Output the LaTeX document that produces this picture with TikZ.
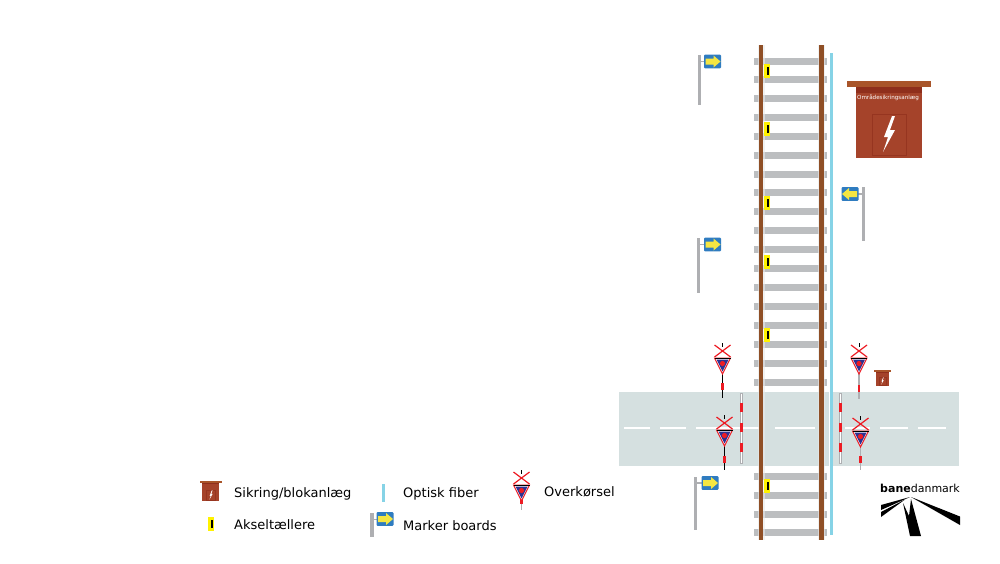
\documentclass[tikz,border=0pt]{standalone}
\usepackage{fontspec}
\setmainfont{DejaVu Sans}
\definecolor{railbrown}{HTML}{8F4F26}
\definecolor{railedge}{HTML}{E8E9EA}
\definecolor{sleepergrey}{HTML}{BCBEC0}
\definecolor{fibreblue}{HTML}{86D3E6}
\definecolor{roadgrey}{HTML}{D5E0E0}
\definecolor{boardblue}{HTML}{2F7CC0}
\definecolor{arrowyellow}{HTML}{F5E642}
\definecolor{counteryellow}{HTML}{FFF200}
\definecolor{cabinetred}{HTML}{A5432A}
\definecolor{cabinetroof}{HTML}{A9552A}
\definecolor{cabinetdark}{HTML}{8F2F1C}
\definecolor{signred}{HTML}{ED1C24}
\definecolor{signblue}{HTML}{2E3192}
\definecolor{poleGrey}{HTML}{AEAFB2}
\tikzset{
    legendtext/.style={anchor=west, inner sep=0pt, font=\fontsize{13}{15}\selectfont},
    % Blue box with a yellow arrow, drawn pointing right
    arrowbox/.pic={
        \fill[boardblue, rounded corners=1] (-8.5,-6.8) rectangle (8.5,6.8);
        \fill[arrowyellow] (-7,-3) -- (1,-3) -- (1,-6) -- (8,0) -- (1,6) -- (1,3) -- (-7,3) -- cycle;
    },
    % Axle counter, origin in the middle
    counter/.pic={
        \fill[counteryellow] (-3,-7) rectangle (3,7);
        \fill[black] (0,-4) rectangle (2,4);
    },
    % Cabinet, origin at the middle of the roof
    cabinet/.pic={
        \fill[cabinetroof] (-42,-3) rectangle (42,3);
        \fill[cabinetred] (-33,3) rectangle (32.5,74);
        \fill[cabinetdark] (-33,3) rectangle (32.5,9);
        \draw[cabinetdark!70!cabinetred, line width=0.3] (-17,30) rectangle (17,71);
        \fill[white] (3,32) -- (-5,53) -- (-1,53) -- (-6,68) -- (6,46) -- (1,46) -- (6,32) -- cycle;
    },
    % Level crossing sign, origin at the top of the triangle
    crossing/.pic={
        \draw[signred, line width=1.2] (-8,-13) -- (8,-1) (8,-13) -- (-8,-1);
        \draw[black, line width=0.7] (0,-15) -- (0,-11);
        \fill[white, draw=signred, line width=1] (-8,0) -- (8,0) -- (0,16) -- cycle;
        \draw[black, line width=0.8] (-8,0) -- (8,0);
        \fill[signblue] (-6,1.5) -- (6,1.5) -- (0,13.5) -- cycle;
        \fill[signred] (0,5.5) circle (2.6);
    },
}
\begin{document}
\begin{tikzpicture}[x=1pt, y=-1pt]
    \useasboundingbox (0,0) rectangle (1000,563);

    % Road
    \fill[roadgrey] (619,392) rectangle (959,466);
    \foreach \xa/\xb in {624/650, 660/686, 696/763, 775/815, 845/870, 880/908, 918/946}
        \fill[white] (\xa,427) rectangle (\xb,429);

    % Sleepers
    \foreach \y in {61, 79.5, 98.5, 117, 136, 155, 174, 192.5, 211, 230, 249, 268, 287, 306, 325, 344, 363, 382, 476, 495, 514, 532}
        \fill[sleepergrey] (754,\y-3.5) rectangle (827,\y+3.5);

    % Rails
    \fill[railedge, opacity=0.6] (757.5,45) rectangle (764.5,540);
    \fill[railedge, opacity=0.6] (817.5,45) rectangle (825,540);
    \fill[railbrown] (758.7,45) rectangle (763,540);
    \fill[railbrown] (819,45) rectangle (823.5,540);

    % Optical fibre
    \fill[white] (828.5,392) rectangle (833,466);
    \fill[fibreblue] (830,53) rectangle (833,535);

    % Axle counters
    \foreach \y in {71, 129, 203, 261.5, 335, 486}
        \pic at (767,\y) {counter};

    % Marker boards
    \foreach \px/\ya/\yb/\bx/\by in {699/55/105/712.5/61.5, 698/238/293/712.5/244.5, 695.5/477/530/710/483}{
        \fill[poleGrey] (\px-1.5,\ya) rectangle (\px+1.5,\yb);
        \fill[poleGrey] (\px,\by-0.7) rectangle (\bx,\by+0.7);
        \pic at (\bx,\by) {arrowbox};
    }
    \fill[poleGrey] (862,187) rectangle (865,241);
    \fill[poleGrey] (850,193.3) rectangle (863,194.7);
    \pic[xscale=-1] at (850,194) {arrowbox};

    % Cabinets
    \pic at (889,84) {cabinet};
    \pic[scale=0.2] at (882.5,371) {cabinet};
    \node (omraade) at (888,98) [white, inner sep=0pt, font=\fontsize{5.6}{6}\selectfont] {Områdesikringsanlæg};

    % Barriers
    \foreach \x in {741, 840}{
        \fill[white, draw=poleGrey, line width=0.6] (\x-1,393) rectangle (\x+1,463);
        \foreach \y in {403, 423, 443}
            \fill[signred] (\x-1.5,\y) rectangle (\x+1.5,\y+9);
    }

    % Level crossing signs
    \foreach \x/\y/\yb/\col/\yr in {722.5/358/398/black/383, 859/358/399/poleGrey/385, 724.5/430/470/black/456, 860.5/431/470/poleGrey/456, 521.5/485/510/poleGrey/497}{
        \draw[\col, line width=1.3] (\x,\y+15) -- (\x,\yb);
        \fill[signred] (\x-1.1,\yr) rectangle (\x+1.1,\yr+7);
        \pic at (\x,\y) {crossing};
    }

    % Legend
    \pic[scale=0.26] at (211,482) {cabinet};
    \node[legendtext] (sikring) at (234,494) {Sikring/blokanlæg};
    \pic at (211,524) {counter};
    \node[legendtext] (aksel) at (234,525) {Akseltællere};
    \fill[fibreblue] (382,484) rectangle (385,502);
    \node[legendtext] (fiber) at (403,494) {Optisk fiber};
    \fill[poleGrey] (370,513) rectangle (374,537);
    \fill[poleGrey] (372,518.5) rectangle (380,520);
    \pic at (385,519) {arrowbox};
    \node[legendtext] (marker) at (403,526) {Marker boards};
    \node[legendtext] (overkorsel) at (544,492) {Overkørsel};

    % Logo
    \node[anchor=west, inner sep=0pt, font=\fontsize{11}{13}\selectfont] (logo) at (880,488) {\textbf{bane}danmark};
    \fill[black] (910,497) -- (881,505) -- (881,510) -- cycle;
    \fill[black] (905,499.5) -- (881,512) -- (881,517) -- cycle;
    \fill[black] (911,497) -- (960,516.5) -- (960,525) -- cycle;
    \fill[black] (903,503) -- (910,536) -- (921,536) -- (911,499) -- (909,516) -- cycle;
\end{tikzpicture}
\end{document}
